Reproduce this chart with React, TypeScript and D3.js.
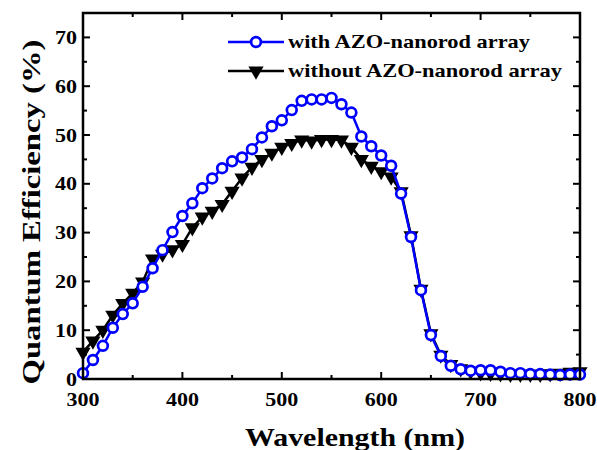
import React from "react";
import * as d3 from "d3";

const wavelength = d3.range(300, 801, 10);

const withAZO = [
  1.2, 3.9, 6.8, 10.5, 13.3, 15.5, 18.9, 22.7, 26.4, 30.1,
  33.4, 36.0, 39.1, 41.1, 43.2, 44.6, 45.4, 47.1, 49.5, 51.8,
  53.0, 55.1, 57.0, 57.3, 57.3, 57.6, 56.3, 54.6, 49.7, 47.7,
  45.8, 43.7, 38.0, 29.1, 18.2, 9.0, 4.7, 2.7, 2.0, 1.7,
  1.8, 1.8, 1.5, 1.2, 1.2, 1.0, 1.0, 0.9, 0.8, 0.9, 0.9,
];

const withoutAZO = [
  5.5, 7.8, 10.0, 13.1, 15.5, 17.6, 19.9, 24.6, 25.6, 26.5,
  27.6, 31.0, 33.2, 34.4, 35.8, 38.5, 41.2, 43.4, 45.0, 46.3,
  47.5, 48.3, 49.0, 48.8, 49.1, 49.1, 49.0, 47.5, 45.0, 43.6,
  42.5, 41.4, 38.4, 29.4, 18.4, 9.3, 4.9, 3.0, 2.1, 1.6,
  1.3, 1.2, 1.1, 1.0, 1.0, 1.0, 1.0, 1.1, 1.2, 1.4, 1.5,
];

const legendLabels = ["with AZO-nanorod array", "without AZO-nanorod array"];
const xTicks = [300, 400, 500, 600, 700, 800];
const yTicks = [0, 10, 20, 30, 40, 50, 60, 70];

const W = 597, H = 450;
const margin = { top: 13, right: 17, bottom: 71, left: 83 };
const font = "'Liberation Serif', 'Times New Roman', serif";
const digitW = 11;

export default function App() {
  const x = d3.scaleLinear().domain([300, 800]).range([margin.left, W - margin.right]);
  const y = d3.scaleLinear().domain([0, 75]).range([H - margin.bottom, margin.top]);

  const line = d3.line<number>()
    .x((_, i) => x(wavelength[i]))
    .y((d) => y(d));

  const x0 = x.range()[0], x1 = x.range()[1];
  const y0 = y.range()[0], y1 = y.range()[1];

  const xMinor = d3.range(300, 801, 50);
  const yMinor = d3.range(0, 76, 5);

  const tri = d3.symbol().type(d3.symbolTriangle).size(100)();

  return (
    <div style={{ position: "absolute", left: 0, top: 0 }}>
      <svg width={W} height={H} style={{ display: "block", background: "#fff" }}>
        {/* ticks */}
        <g stroke="#000" strokeWidth={2}>
          {xMinor.map((v) => {
            const len = v % 100 === 0 ? 7 : 4;
            return (
              <g key={"xt" + v}>
                <line x1={x(v)} x2={x(v)} y1={y0} y2={y0 - len} />
                <line x1={x(v)} x2={x(v)} y1={y1} y2={y1 + len} />
              </g>
            );
          })}
          {yMinor.map((v) => {
            const len = v % 10 === 0 ? 7 : 4;
            return (
              <g key={"yt" + v}>
                <line x1={x0} x2={x0 + len} y1={y(v)} y2={y(v)} />
                <line x1={x1} x2={x1 - len} y1={y(v)} y2={y(v)} />
              </g>
            );
          })}
        </g>

        {/* series: without (black triangles) */}
        <path d={line(withoutAZO) ?? ""} fill="none" stroke="#000" strokeWidth={2.5} />
        {withoutAZO.map((d, i) => (
          <path
            key={"b" + i}
            d={tri}
            transform={`translate(${x(wavelength[i])},${y(d)}) rotate(180)`}
            fill="#000"
          />
        ))}

        {/* series: with (blue circles) */}
        <path d={line(withAZO) ?? ""} fill="none" stroke="#0000ff" strokeWidth={2.5} />
        {withAZO.map((d, i) => (
          <circle
            key={"c" + i}
            cx={x(wavelength[i])}
            cy={y(d)}
            r={4.9}
            fill="#fff"
            stroke="#0000ff"
            strokeWidth={2.7}
          />
        ))}

        {/* frame */}
        <rect x={x0} y={y1} width={x1 - x0} height={y0 - y1} fill="none" stroke="#000" strokeWidth={2.5} />

        {/* tick labels */}
        <g fontFamily={font} fontWeight="bold" fontSize={19} fill="#000">
          {xTicks.map((v) => (
            <text key={"xl" + v} x={x(v)} y={y0 + 27} textAnchor="middle"
              textLength={String(v).length * digitW} lengthAdjust="spacingAndGlyphs">{v}</text>
          ))}
          {yTicks.map((v) => (
            <text key={"yl" + v} x={x0 - 6} y={y(v)} dy="0.35em" textAnchor="end"
              textLength={String(v).length * digitW} lengthAdjust="spacingAndGlyphs">{v}</text>
          ))}
        </g>

        {/* axis titles */}
        <text x={355} y={446} textAnchor="middle" fontFamily={font} fontWeight="bold" fontSize={25}
          textLength={220} lengthAdjust="spacingAndGlyphs">
          Wavelength (nm)
        </text>
        <text
          transform={`translate(40,212) rotate(-90)`}
          textAnchor="middle"
          fontFamily={font}
          fontWeight="bold"
          fontSize={26}
          textLength={345}
          lengthAdjust="spacingAndGlyphs"
        >
          Quantum Efficiency (%)
        </text>

        {/* legend */}
        <g fontFamily={font} fontWeight="bold" fontSize={19}>
          <line x1={228} x2={284} y1={42} y2={42} stroke="#0000ff" strokeWidth={2.5} />
          <circle cx={256} cy={42} r={4.9} fill="#fff" stroke="#0000ff" strokeWidth={2.7} />
          <text x={288} y={48} textLength={242} lengthAdjust="spacingAndGlyphs">{legendLabels[0]}</text>
          <line x1={228} x2={284} y1={71} y2={71} stroke="#000" strokeWidth={2.5} />
          <path d={tri} transform="translate(256,71) rotate(180)" fill="#000" />
          <text x={288} y={77} textLength={274} lengthAdjust="spacingAndGlyphs">{legendLabels[1]}</text>
        </g>
      </svg>
    </div>
  );
}
